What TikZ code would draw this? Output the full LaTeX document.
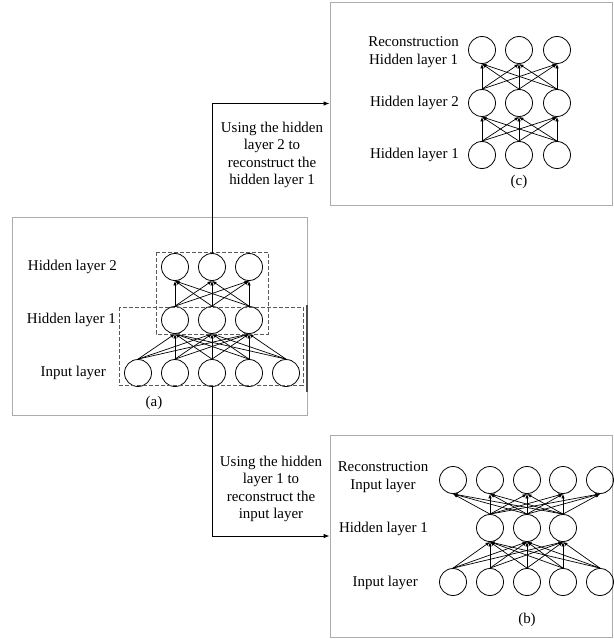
\documentclass[tikz,border=0pt]{standalone}
\usepackage{fontspec}
\setmainfont{Liberation Serif}
\usetikzlibrary{arrows.meta}
\begin{document}
\begin{tikzpicture}[x=1bp,y=-1bp,
  neuron/.style={circle,draw,line width=0.8bp,minimum size=27bp,inner sep=0pt},
  panel/.style={draw=gray!65,line width=0.8bp,inner sep=0pt},
  grp/.style={draw=black!65,dash pattern=on 4bp off 2bp,line width=0.8bp},
  conn/.style={-{Latex[length=4.5bp,width=3.5bp]},line width=0.7bp},
  lbl/.style={font=\fontsize{15}{17.5}\selectfont,inner sep=0pt},
  flow/.style={-{Latex[length=6bp,width=4.5bp]},line width=0.9bp}]
\useasboundingbox (0,0) rectangle (614,639);

% panels
\node[panel,minimum width=295bp,minimum height=198bp] (pa) at (159.5,316) {};
\node[panel,minimum width=282bp,minimum height=203bp] (pc) at (471,103.5) {};
\node[panel,minimum width=282bp,minimum height=202bp] (pb) at (471,536) {};
\draw[line width=1.2bp,black!70] (307,305) -- (307,392);

% ---------- panel (a)
\foreach \i/\x in {1/138,2/175,3/212,4/249,5/286}
  \node[neuron] (ai\i) at (\x,373) {};
\foreach \i/\x in {1/175,2/212,3/249}{
  \node[neuron] (ah\i) at (\x,320) {};
  \node[neuron] (ag\i) at (\x,267) {};
}
\foreach \s in {1,...,5} \foreach \t in {1,2,3}
  \draw[conn] (ai\s.north) -- (ah\t.south);
\foreach \s in {1,2,3} \foreach \t in {1,2,3}
  \draw[conn] (ah\s.north) -- (ag\t.south);
\draw[grp] (156,252) rectangle (268,334);
\draw[grp] (119,307) rectangle (303,385);
\node[lbl,anchor=east] (la2) at (117,267) {Hidden layer 2};
\node[lbl,anchor=east] (la1) at (116,320) {Hidden layer 1};
\node[lbl,anchor=east] (la0) at (106,373) {Input layer};
\node[lbl] (capa) at (154,403) {(a)};

% ---------- panel (c)
\foreach \i/\x in {1/482,2/519,3/557}{
  \node[neuron] (ci\i) at (\x,155) {};
  \node[neuron] (ch\i) at (\x,103) {};
  \node[neuron] (cr\i) at (\x,50) {};
}
\foreach \s in {1,2,3} \foreach \t in {1,2,3}{
  \draw[conn] (ci\s.north) -- (ch\t.south);
  \draw[conn] (ch\s.north) -- (cr\t.south);
}
\node[lbl,anchor=east,align=center] (lcr) at (459,52) {Reconstruction\\Hidden layer 1};
\node[lbl,anchor=east] (lch) at (459,103) {Hidden layer 2};
\node[lbl,anchor=east] (lci) at (459,155) {Hidden layer 1};
\node[lbl] (capc) at (519,182) {(c)};

% ---------- panel (b)
\foreach \i/\x in {1/453,2/490,3/527,4/563,5/600}{
  \node[neuron] (bi\i) at (\x,582) {};
  \node[neuron] (br\i) at (\x,480) {};
}
\foreach \i/\x in {1/490,2/527,3/563}
  \node[neuron] (bh\i) at (\x,528) {};
\foreach \s in {1,...,5} \foreach \t in {1,2,3}{
  \draw[conn] (bi\s.north) -- (bh\t.south);
  \draw[conn] (bh\t.north) -- (br\s.south);
}
\node[lbl,align=center] (lbr) at (383,477) {Reconstruction\\Input layer};
\node[lbl,anchor=east] (lbh) at (428,529) {Hidden layer 1};
\node[lbl,anchor=east] (lbi) at (418,583) {Input layer};
\node[lbl] (capb) at (527,620) {(b)};

% ---------- flow connectors
\draw[flow] (ag2.north) |- (pc.west);
\draw[flow] (ai3.south) |- (pb.west);
\node[lbl,align=center] (t1) at (272,155) {Using the hidden\\layer 2 to\\reconstruct the\\hidden layer 1};
\node[lbl,align=center] (t2) at (271,489) {Using the hidden\\layer 1 to\\reconstruct the\\input layer};
\end{tikzpicture}
\end{document}
